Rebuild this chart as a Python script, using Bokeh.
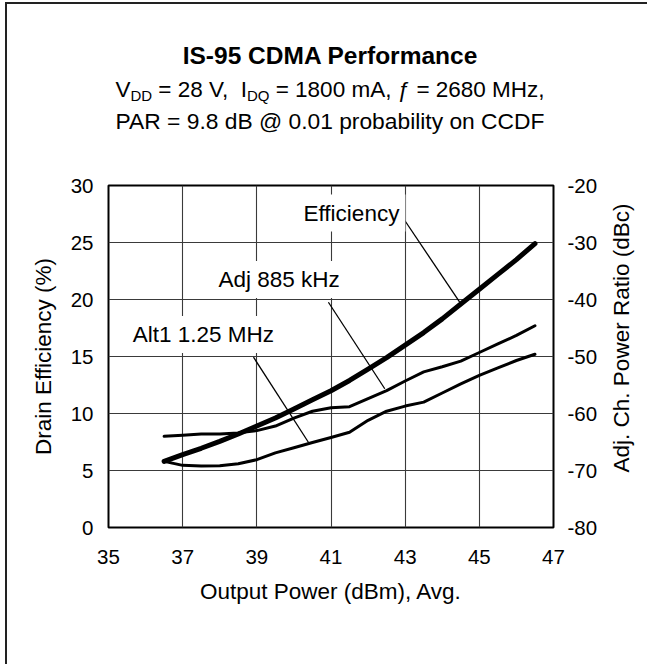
from bokeh.plotting import figure
from bokeh.models import Range1d, LinearAxis, FixedTicker, Label, Div
from bokeh.layouts import column, row
from bokeh.embed import file_html
from bokeh.resources import INLINE

# ---------------- data ----------------
pout = [36.5, 37.0, 37.5, 38.0, 38.5, 39.0, 39.5, 40.0, 40.5, 41.0, 41.5,
        42.0, 42.5, 43.0, 43.5, 44.0, 44.5, 45.0, 45.5, 46.0, 46.5]
efficiency = [5.8, 6.4, 6.95, 7.55, 8.2, 8.9, 9.6, 10.4, 11.2, 12.0, 12.9,
              13.9, 14.9, 16.0, 17.1, 18.3, 19.6, 20.9, 22.2, 23.5, 24.9]
adj_885 = [-64.0, -63.8, -63.6, -63.6, -63.4, -63.0, -62.2, -60.8, -59.6, -59.0, -58.8,
           -57.4, -56.0, -54.3, -52.7, -51.8, -50.8, -49.3, -47.8, -46.3, -44.6]
alt1_125 = [-68.4, -69.1, -69.2, -69.15, -68.8, -68.1, -66.9, -66.0, -65.1, -64.2, -63.3,
            -61.2, -59.6, -58.7, -58.0, -56.4, -54.8, -53.3, -52.0, -50.7, -49.6]

x_ticks = [35, 37, 39, 41, 43, 45, 47]
eff_ticks = [0, 5, 10, 15, 20, 25, 30]
acpr_ticks = [-80, -70, -60, -50, -40, -30, -20]

# leader lines (start at label, end on curve), in left-axis units
leader_x0 = [42.99, 40.93, 38.91]
leader_y0 = [26.93, 19.76, 14.94]
leader_x1 = [44.47, 42.45, 40.39]
leader_y1 = [19.76, 12.17, 7.48]

# ---------------- layout ----------------
FONT = "Liberation Sans"
DIV_H = 140
W_ALL = 640
W, H = 593, 520
FL, FT, FW, FH = 101, 41, 446, 342
RW = W_ALL - W


def dx(page_x):
    return 35 + (page_x - 108) / FW * 12


def dy(page_y):
    return (527 - page_y) / FH * 30


title_html = (
    "<div style=\"font-family:'Liberation Sans',Arial,sans-serif;color:#000;"
    "text-align:center;width:640px;box-sizing:border-box;"
    "padding-left:6px;padding-top:34px;\">"
    "<div style=\"font-size:24.5px;font-weight:bold;line-height:36px;\">IS-95 CDMA Performance</div>"
    "<div style=\"font-size:22.5px;line-height:32px;white-space:nowrap;\">"
    "V<span style=\"font-size:15px;vertical-align:-4px;line-height:0;\">DD</span> = 28 V,&nbsp; "
    "I<span style=\"font-size:15px;vertical-align:-4px;line-height:0;\">DQ</span> = 1800 mA, "
    "\u0192 = 2680 MHz,</div>"
    "<div style=\"font-size:22.8px;line-height:31px;white-space:nowrap;\">"
    "PAR = 9.8 dB @ 0.01 probability on CCDF</div>"
    "</div>"
)
title_div = Div(text=title_html, width=W_ALL, height=DIV_H, margin=0)

right_html = (
    f"<div style=\"position:relative;width:{RW}px;height:{H}px;\">"
    "<div style=\"position:absolute;left:21.5px;top:194px;"
    "transform:translate(-50%,-50%) rotate(-90deg);white-space:nowrap;"
    "font-family:'Liberation Sans',Arial,sans-serif;font-size:22.5px;line-height:1;color:#000;\">"
    "Adj. Ch. Power Ratio (dBc)</div></div>"
)
right_div = Div(text=right_html, width=RW, height=H, margin=0)

p = figure(width=W, height=H, x_range=Range1d(35, 47), y_range=Range1d(0, 30),
           output_backend="svg", toolbar_location=None,
           min_border_left=FL, min_border_right=W - FL - FW,
           min_border_top=FT, min_border_bottom=H - FT - FH,
           background_fill_color="white", border_fill_color="white",
           outline_line_color="black", outline_line_width=2, margin=0)
p.extra_y_ranges = {"acpr": Range1d(-80, -20)}

# grid
p.xgrid.ticker = FixedTicker(ticks=x_ticks)
p.ygrid.ticker = FixedTicker(ticks=eff_ticks)
for g in (p.xgrid, p.ygrid):
    g.grid_line_color = "#3a3a3a"
    g.grid_line_width = 1.1


def style_axis(ax):
    ax.axis_line_color = None
    ax.major_tick_line_color = None
    ax.minor_tick_line_color = None
    ax.major_label_text_font = FONT
    ax.major_label_text_font_size = "20.5px"
    ax.major_label_text_color = "black"
    ax.axis_label_text_font = FONT
    ax.axis_label_text_font_size = "22.5px"
    ax.axis_label_text_font_style = "normal"
    ax.axis_label_text_color = "black"


p.xaxis.ticker = FixedTicker(ticks=x_ticks)
p.xaxis.axis_label = "Output Power (dBm), Avg."
style_axis(p.xaxis[0])
p.xaxis.major_label_standoff = 16
p.xaxis.axis_label_standoff = 12

p.yaxis.ticker = FixedTicker(ticks=eff_ticks)
p.yaxis.axis_label = "Drain Efficiency (%)"
style_axis(p.yaxis[0])
p.yaxis.major_label_standoff = 9
p.yaxis.axis_label_standoff = 12

ra = LinearAxis(y_range_name="acpr", ticker=FixedTicker(ticks=acpr_ticks))
style_axis(ra)
ra.major_label_overrides = {t: str(t) for t in acpr_ticks}
ra.major_label_standoff = 8
p.add_layout(ra, "right")

# curves
p.line(pout, adj_885, y_range_name="acpr", line_color="black", line_width=3,
       line_cap="round", line_join="round")
p.line(pout, alt1_125, y_range_name="acpr", line_color="black", line_width=3,
       line_cap="round", line_join="round")
p.line(pout, efficiency, line_color="black", line_width=5,
       line_cap="round", line_join="round")

# leader lines
p.segment(leader_x0, leader_y0, leader_x1, leader_y1, line_color="black", line_width=1.3)

# curve labels
for txt, px, py in [("Efficiency", 351.5, 212.5), ("Adj 885 kHz", 279, 279),
                    ("Alt1 1.25 MHz", 203, 334)]:
    p.add_layout(Label(x=dx(px), y=dy(py), text=txt, text_font=FONT,
                       text_font_size="22.5px", text_color="black",
                       text_align="center", text_baseline="middle",
                       background_fill_color="white", padding=6))

layout = column(title_div, row(p, right_div, spacing=0), spacing=0, margin=(2, 0, 0, 5),
                styles={"border-left": "2px solid #222", "border-top": "2px solid #222"})

open("out.html", "w").write(file_html(layout, INLINE))
